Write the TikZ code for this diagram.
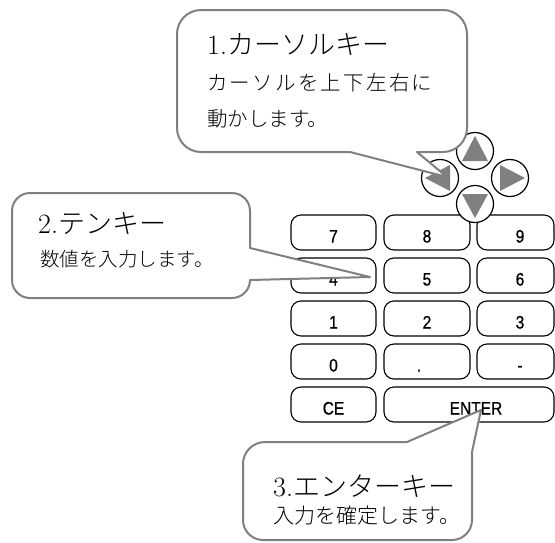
\documentclass[tikz,border=0pt]{standalone}
\usepackage{fontspec}
\newfontfamily\jp{Noto Sans CJK JP Light}
\newfontfamily\keyfont[FakeBold=0.9]{Liberation Sans}
\newcommand{\klab}[1]{\scalebox{0.86}[1]{#1}}
\definecolor{callgray}{HTML}{808080}
\begin{document}
\begin{tikzpicture}[x=1pt,y=-1pt,
  key/.style={draw=black, line width=1.1pt, rounded corners=10pt, minimum height=35pt,
    inner sep=0pt, font=\keyfont\fontsize{18}{18}\selectfont, text height=20pt, text depth=0pt},
  btn/.style={circle, draw=black, line width=1.2pt, fill=white, minimum size=37pt, inner sep=0pt},
  tri/.style={fill=callgray},
  callout/.style={draw=callgray, line width=2pt, fill=white, line join=round},
  txt/.style={anchor=base west, inner sep=0pt}]
\useasboundingbox (0,0) rectangle (555,542);
% keys
\node[key, minimum width=85pt] (k7) at (333.5,232.5) {\klab{7}};
\node[key, minimum width=86pt] (k8) at (427,232.5) {\klab{8}};
\node[key, minimum width=77pt] (k9) at (515.5,232.5) {\hspace*{9pt}\klab{9}};
\node[key, minimum width=85pt] (k4) at (333.5,275.5) {\klab{4}};
\node[key, minimum width=86pt] (k5) at (427,275.5) {\klab{5}};
\node[key, minimum width=77pt] (k6) at (515.5,275.5) {\hspace*{9pt}\klab{6}};
\node[key, minimum width=85pt] (k1) at (333.5,318.5) {\klab{1}};
\node[key, minimum width=86pt] (k2) at (427,318.5) {\klab{2}};
\node[key, minimum width=77pt] (k3) at (515.5,318.5) {\hspace*{9pt}\klab{3}};
\node[key, minimum width=85pt] (k0) at (333.5,361.5) {\klab{0}};
\node[key, minimum width=86pt] (kdot) at (427,361.5) {\klab{.}\hspace*{16pt}};
\node[key, minimum width=77pt] (kminus) at (515.5,361.5) {\hspace*{9pt}\klab{-}};
\node[key, minimum width=85pt] (kce) at (333.5,404.5) {\klab{CE}};
\node[key, minimum width=170pt] (kent) at (469,404.5) {\hspace*{14pt}\klab{ENTER}};
% cursor buttons
\node[btn] (up) at (475,151) {};
\node[btn] (left) at (440,178) {};
\node[btn] (right) at (510,178) {};
\node[btn] (down) at (475,204) {};
\fill[tri] ([shift={(0,-15)}]up.center) -- ([shift={(-13,10)}]up.center) -- ([shift={(13,10)}]up.center) -- cycle;
\fill[tri] ([shift={(0,14)}]down.center) -- ([shift={(-13,-10)}]down.center) -- ([shift={(13,-10)}]down.center) -- cycle;
\fill[tri] ([shift={(15,0)}]right.center) -- ([shift={(-10,-13)}]right.center) -- ([shift={(-10,13)}]right.center) -- cycle;
\fill[tri] ([shift={(-15,0)}]left.center) -- ([shift={(10,-13)}]left.center) -- ([shift={(10,13)}]left.center) -- cycle;
% callout 1
\draw[callout] (177,34) arc[start angle=180,end angle=270,radius=24] -- (443,10)
  arc[start angle=270,end angle=360,radius=24] -- (467,128)
  arc[start angle=0,end angle=90,radius=24] -- (417,152) -- (447,177) -- (350,152) -- (201,152)
  arc[start angle=90,end angle=180,radius=24] -- cycle;
% callout 2
\draw[callout] (12,211) arc[start angle=180,end angle=270,radius=18] -- (232,193)
  arc[start angle=270,end angle=360,radius=18] -- (250,248) -- (370,277) -- (250,280)
  arc[start angle=0,end angle=90,radius=18] -- (30,298)
  arc[start angle=90,end angle=180,radius=18] -- cycle;
% callout 3
\draw[callout] (243,464) arc[start angle=180,end angle=270,radius=22] -- (407,442) -- (481,410)
  -- (472,452) -- (472,520) arc[start angle=0,end angle=90,radius=20] -- (263,540)
  arc[start angle=90,end angle=180,radius=20] -- cycle;
% texts
\node[txt] (t1) at (207,54) {\fontsize{28}{28}\selectfont 1.{\jp\fontsize{27}{27}\selectfont カーソルキー}};
\node[txt] (s1a) at (207,90.5) {\jp\fontsize{20.5}{20.5}\selectfont\addfontfeature{LetterSpace=11}カーソルを上下左右に};
\node[txt] (s1b) at (207,126) {\jp\fontsize{20.5}{20.5}\selectfont 動かします。};
\node[txt] (t2) at (38,233) {\fontsize{28}{28}\selectfont 2.{\jp\fontsize{27}{27}\selectfont テンキー}};
\node[txt] (s2) at (40,266.5) {\jp\fontsize{19.5}{19.5}\selectfont 数値を入力します。};
\node[txt] (t3) at (273,496) {\fontsize{28}{28}\selectfont 3.{\jp\fontsize{27}{27}\selectfont エンターキー}};
\node[txt] (s3) at (273,523.5) {\jp\fontsize{21}{21}\selectfont 入力を確定します。};
\end{tikzpicture}
\end{document}
